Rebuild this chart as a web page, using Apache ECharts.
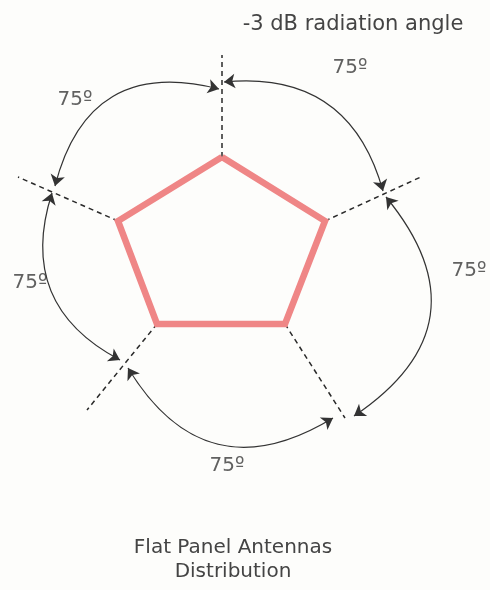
<!DOCTYPE html>
<html>
<head>
<meta charset="utf-8">
<title>Flat Panel Antennas Distribution</title>
<script src="https://cdn.jsdelivr.net/npm/echarts@6/dist/echarts.min.js"></script>
<style>
    html, body { margin: 0; padding: 0; width: 100%; height: 100%; background: #fdfdfb; overflow: hidden; }
    #main { width: 490px; height: 590px; }
</style>
</head>
<body>
<div id="main"></div>
<script>
// panel corners (drawing units, y grows downward)
const cornerX = [222, 325, 285, 157, 118];
const cornerY = [157, 221, 324, 324, 221];
// outer ends of the dashed -3 dB lines
const rayEndX = [222, 423, 345, 87, 18];
const rayEndY = [55, 176, 418, 410, 177];
// double-headed arc arrows
const arcStartX = [55, 224, 386, 333, 120];
const arcStartY = [186, 82, 197, 418, 360];
const arcEndX = [219, 383, 354, 128, 52];
const arcEndY = [89, 191, 416, 368, 193];
const arcBend = [0.5, 0.42, 0.55, 0.5, 0.42];
// angle labels
const angleText = ['75º', '75º', '75º', '75º', '75º'];
const labelX = [75, 350, 469, 227, 30];
const labelY = [100, 68, 271, 466, 283];

const textColor = '#444';
const font = 'DejaVu Sans';

let chart = echarts.init(document.getElementById('main'));

const panel = cornerX.map((x, i) => [x, cornerY[i]]);
panel.push(panel[0]);

const rays = cornerX.map((x, i) => ({ coords: [[x, cornerY[i]], [rayEndX[i], rayEndY[i]]] }));

const arcs = arcStartX.map((x, i) => ({
    coords: [[x, arcStartY[i]], [arcEndX[i], arcEndY[i]]],
    lineStyle: { curveness: arcBend[i] }
}));

const labels = labelX.map((x, i) => ({ name: angleText[i], value: [x, labelY[i]] }));

const option = {
    backgroundColor: '#fdfdfb',
    animation: false,
    title: [{
        text: '-3 dB radiation angle',
        left: 348,
        top: 9,
        textAlign: 'center',
        textStyle: { color: textColor, fontFamily: font, fontSize: 21, fontWeight: 'normal' }
    }, {
        text: 'Flat Panel Antennas\nDistribution',
        left: 228,
        top: 531,
        textAlign: 'center',
        textStyle: { color: textColor, fontFamily: font, fontSize: 20, fontWeight: 'normal', lineHeight: 24 }
    }],
    grid: { left: 0, right: 0, top: 0, bottom: 0 },
    xAxis: { type: 'value', min: 0, max: 490, show: false },
    yAxis: { type: 'value', min: 0, max: 590, inverse: true, show: false },
    series: [{
        type: 'lines',
        coordinateSystem: 'cartesian2d',
        symbol: 'none',
        lineStyle: { color: '#2a2a2a', width: 1.5, type: [5, 4], opacity: 1 },
        data: rays,
        z: 1
    }, {
        type: 'lines',
        coordinateSystem: 'cartesian2d',
        symbol: ['arrow', 'arrow'],
        symbolSize: 11,
        lineStyle: { color: '#333', width: 1.2, opacity: 1 },
        itemStyle: { color: '#222' },
        data: arcs,
        z: 2
    }, {
        type: 'line',
        data: panel,
        symbol: 'none',
        lineStyle: { color: '#ef8686', width: 6.5, join: 'miter' },
        z: 3
    }, {
        type: 'scatter',
        data: labels,
        symbolSize: 1,
        itemStyle: { color: 'transparent' },
        label: {
            show: true,
            position: 'inside',
            formatter: '{b}',
            color: '#3a3a3a',
            fontFamily: font,
            fontSize: 20
        },
        z: 4
    }]
};

chart.setOption(option);
window.addEventListener('resize', () => chart.resize());
</script>
</body>
</html>
